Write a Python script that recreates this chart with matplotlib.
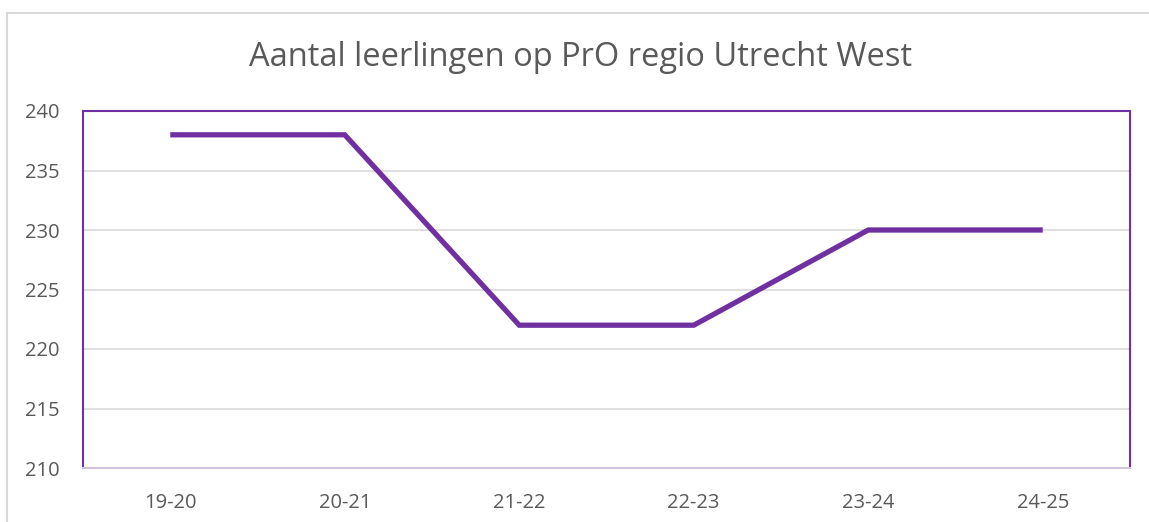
import matplotlib.pyplot as plt
from matplotlib.patches import Rectangle

years = ["19-20", "20-21", "21-22", "22-23", "23-24", "24-25"]
students = [238, 238, 222, 222, 230, 230]
yticks = [210, 215, 220, 225, 230, 235, 240]

plt.rcParams['font.family'] = ['Open Sans', 'DejaVu Sans']

fig = plt.figure(figsize=(11.49, 5.22), dpi=100)

# outer chart frame (runs past right/bottom edge like the screenshot)
fig.patches.append(Rectangle((7 / 1149, -0.2), 1.5, 1.2 - 13 / 522,
                             transform=fig.transFigure, fill=False,
                             edgecolor='#d9d9d9', linewidth=1.5))

ax = fig.add_axes([83 / 1149, 1 - 468 / 522, 1047 / 1149, 357 / 522])
ax.plot(range(len(years)), students, color='#7030a0', linewidth=3.8,
        solid_capstyle='butt', solid_joinstyle='miter')

ax.set_xlim(-0.5, len(years) - 0.5)
ax.set_ylim(210, 240)
ax.set_yticks(yticks)
ax.set_xticks(range(len(years)))
ax.set_xticklabels(years)
ax.yaxis.grid(True, color='#d9d9d9', linewidth=1.2)
ax.set_axisbelow(True)
ax.tick_params(length=0, labelsize=14.5, colors='#595959')
ax.tick_params(axis='y', pad=17)
ax.tick_params(axis='x', pad=18)

for side in ['left', 'right', 'top']:
    ax.spines[side].set_color('#7030a0')
    ax.spines[side].set_linewidth(1.5)
ax.spines['bottom'].set_color('#d0c4dc')
ax.spines['bottom'].set_linewidth(1.5)

fig.text(0.505, 1 - 58 / 522, "Aantal leerlingen op PrO regio Utrecht West",
         ha='center', va='center', fontsize=23.5, color='#595959')

fig.savefig("out.png", dpi=100)
